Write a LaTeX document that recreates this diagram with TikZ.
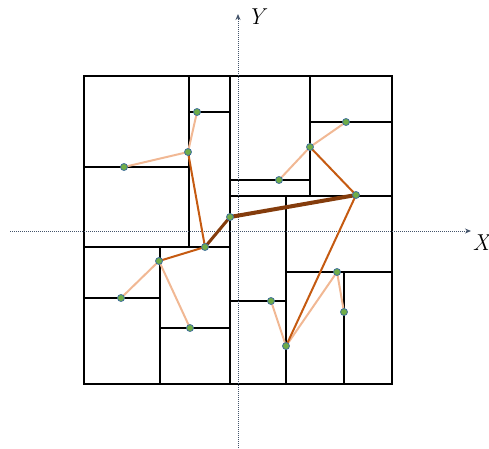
\documentclass[tikz,border=0pt]{standalone}
\usepackage{tikz}
\usetikzlibrary{arrows.meta,backgrounds}
\definecolor{axis}{HTML}{44546A}
\definecolor{deep}{HTML}{843C0C}
\definecolor{mid}{HTML}{C55A11}
\definecolor{soft}{HTML}{F1B894}
\definecolor{dotfill}{HTML}{70AD47}
\definecolor{dotline}{HTML}{41719C}
\pgfdeclarelayer{edges}
\pgfsetlayers{background,edges,main}

\begin{document}
\begin{tikzpicture}[
		x=1pt, y=-1pt,
		cell/.style={line width=2pt, black},
		ax/.style={-{Stealth[length=6pt, width=5pt]}, axis, densely dotted, line width=1pt},
		lbl/.style={font=\fontsize{23}{26}\selectfont\itshape, inner sep=0pt},
		pt/.style={circle, fill=dotfill, draw=dotline, line width=0.8pt,
				minimum size=7pt, inner sep=0pt},
		trunk/.style={deep, line width=4pt},
		branch/.style={mid, line width=2pt},
		twig/.style={soft, line width=2pt},
		]
		\useasboundingbox (0,0) rectangle (489,448);

		% partition of the square
		\begin{pgfonlayer}{background}
			\draw[cell] (84,76) rectangle (392,384);
			\draw[cell] (230,76) -- (230,384);
			\draw[cell] (84,247) -- (230,247);
			\draw[cell] (230,196) -- (392,196);
			\draw[cell] (189,76) -- (189,247);
			\draw[cell] (84,167) -- (189,167);
			\draw[cell] (189,112) -- (230,112);
			\draw[cell] (310,76) -- (310,196);
			\draw[cell] (230,180) -- (310,180);
			\draw[cell] (310,122) -- (392,122);
			\draw[cell] (160,247) -- (160,384);
			\draw[cell] (84,298) -- (160,298);
			\draw[cell] (160,328) -- (230,328);
			\draw[cell] (286,196) -- (286,384);
			\draw[cell] (230,301) -- (286,301);
			\draw[cell] (286,272) -- (392,272);
			\draw[cell] (344,272) -- (344,384);

			% axes
			\coordinate (xs) at (10,231);
			\coordinate (xe) at (471,231);
			\coordinate (ys) at (238,448);
			\coordinate (ye) at (238,14);
			\draw[ax] (xs) -- (xe);
			\draw[ax] (ys) -- (ye);
		\end{pgfonlayer}
		\node[lbl] (xl) at (481,243) {X};
		\node[lbl] (yl) at (256,17) {Y};

		% points
		\node[pt] (c)  at (230,217) {};
		\node[pt] (m)  at (205,247) {};
		\node[pt] (r)  at (356,195) {};
		\node[pt] (a1) at (188,152) {};
		\node[pt] (a2) at (197,112) {};
		\node[pt] (a3) at (124,167) {};
		\node[pt] (b1) at (159,261) {};
		\node[pt] (b2) at (121,298) {};
		\node[pt] (b3) at (190,328) {};
		\node[pt] (d1) at (310,147) {};
		\node[pt] (d2) at (346,122) {};
		\node[pt] (d3) at (279,180) {};
		\node[pt] (e1) at (286,346) {};
		\node[pt] (e2) at (271,301) {};
		\node[pt] (e3) at (337,272) {};
		\node[pt] (e4) at (344,312) {};

		% tree
		\begin{pgfonlayer}{edges}
			\draw[twig] (a1.center) -- (a2.center);
			\draw[twig] (a1.center) -- (a3.center);
			\draw[twig] (b1.center) -- (b2.center);
			\draw[twig] (b1.center) -- (b3.center);
			\draw[twig] (d1.center) -- (d2.center);
			\draw[twig] (d1.center) -- (d3.center);
			\draw[twig] (e1.center) -- (e2.center);
			\draw[twig] (e1.center) -- (e3.center);
			\draw[twig] (e3.center) -- (e4.center);
			\draw[branch] (m.center) -- (a1.center);
			\draw[branch] (m.center) -- (b1.center);
			\draw[branch] (r.center) -- (d1.center);
			\draw[branch] (r.center) -- (e1.center);
			\draw[deep, line width=3pt] (c.center) -- (m.center);
			\draw[trunk] (c.center) -- (r.center);
		\end{pgfonlayer}

	\end{tikzpicture}
\end{document}
